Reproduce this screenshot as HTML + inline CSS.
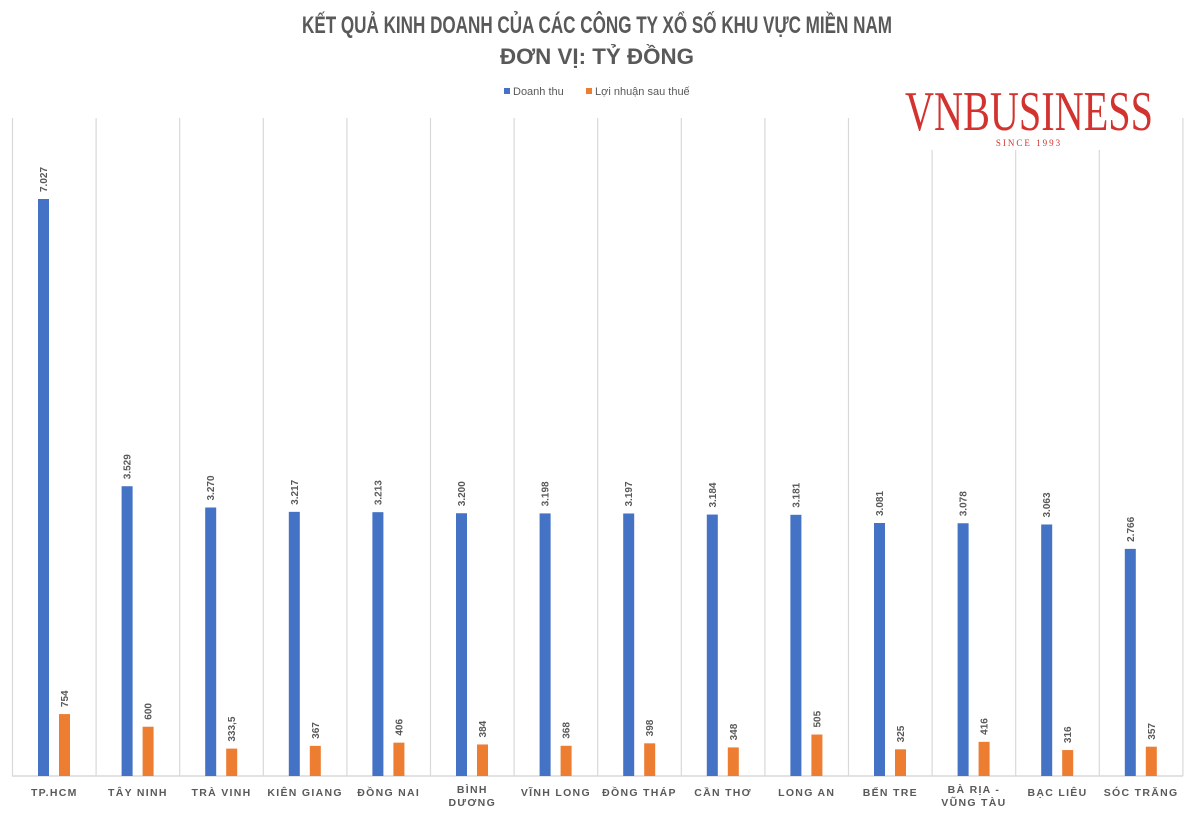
<!DOCTYPE html>
<html><head><meta charset="utf-8"><style>
html,body{margin:0;padding:0;background:#fff;}
svg{display:block;}
</style></head><body>
<svg width="1200" height="817" viewBox="0 0 1200 817" xmlns="http://www.w3.org/2000/svg" font-family="Liberation Sans, DejaVu Sans, sans-serif">
<rect width="1200" height="817" fill="#fff"/>
<text x="597" y="33" text-anchor="middle" font-size="24" font-weight="bold" fill="#595959" textLength="590" lengthAdjust="spacingAndGlyphs">KẾT QUẢ KINH DOANH CỦA CÁC CÔNG TY XỔ SỐ KHU VỰC MIỀN NAM</text>
<text x="597" y="64" text-anchor="middle" font-size="22" font-weight="bold" fill="#595959" textLength="194" lengthAdjust="spacingAndGlyphs">ĐƠN VỊ: TỶ ĐỒNG</text>
<rect x="504" y="88" width="6" height="6" fill="#4472c4"/>
<text x="513" y="95" font-size="11" fill="#595959">Doanh thu</text>
<rect x="586" y="88" width="6" height="6" fill="#ed7d31"/>
<text x="595" y="95" font-size="11" fill="#595959">Lợi nhuận sau thuế</text>
<g id="grid" stroke="#d9d9d9" stroke-width="1.2"></g>
<line x1="12" y1="776" x2="1183" y2="776" stroke="#d9d9d9" stroke-width="1.5"/>
<g id="bars"></g>
<rect x="900" y="82" width="260" height="68" fill="#fff"/>
<text x="1029" y="130" text-anchor="middle" font-family="Liberation Serif, serif" font-size="56" fill="#d2332f" textLength="248" lengthAdjust="spacingAndGlyphs">VNBUSINESS</text>
<text x="1029" y="146" text-anchor="middle" font-family="Liberation Serif, serif" font-size="9" fill="#d2332f" letter-spacing="2">SINCE 1993</text>
</svg>
<script>
const ns="http://www.w3.org/2000/svg";
const names=[["TP.HCM"],["TÂY NINH"],["TRÀ VINH"],["KIÊN GIANG"],["ĐỒNG NAI"],["BÌNH","DƯƠNG"],["VĨNH LONG"],["ĐỒNG THÁP"],["CẦN THƠ"],["LONG AN"],["BẾN TRE"],["BÀ RỊA -","VŨNG TÀU"],["BẠC LIÊU"],["SÓC TRĂNG"]];
const rev=[7027,3529,3270,3217,3213,3200,3198,3197,3184,3181,3081,3078,3063,2766];
const pro=[754,600,333.5,367,406,384,368,398,348,505,325,416,316,357];
const proL=["754","600","333,5","367","406","384","368","398","348","505","325","416","316","357"];
const fmt=v=>(v/1000).toFixed(3);
const g=document.getElementById('grid'),b=document.getElementById('bars');
const x0=12.5,w=83.6,base=776,k=577/7027;
function el(t,a,p,txt){const e=document.createElementNS(ns,t);for(const i in a)e.setAttribute(i,a[i]);if(txt!==undefined)e.textContent=txt;p.appendChild(e);return e;}
for(let i=0;i<=14;i++){const x=x0+i*w;el('line',{x1:x,y1:118,x2:x,y2:776},g);}
for(let i=0;i<14;i++){
 const cx=x0+i*w;
 const h1=rev[i]*k,h2=pro[i]*k;
 el('rect',{x:cx+25.5,y:base-h1,width:11,height:h1,fill:'#4472c4'},b);
 el('rect',{x:cx+46.5,y:base-h2,width:11,height:h2,fill:'#ed7d31'},b);
 const lx=cx+31+3.5,ly=base-h1-7;
 el('text',{x:lx,y:ly,transform:`rotate(-90 ${lx} ${ly})`,'font-size':10,'font-weight':'bold',fill:'#595959'},b,fmt(rev[i]));
 const lx2=cx+52+3.5,ly2=base-h2-7;
 el('text',{x:lx2,y:ly2,transform:`rotate(-90 ${lx2} ${ly2})`,'font-size':10,'font-weight':'bold',fill:'#595959'},b,proL[i]);
 const n=names[i];
 n.forEach((s,j)=>el('text',{x:cx+w/2,y:(n.length==1?796:793)+j*13,'text-anchor':'middle','font-size':10.5,'font-weight':'bold',fill:'#595959','letter-spacing':'1.3'},b,s));
}
</script>
</body></html>
